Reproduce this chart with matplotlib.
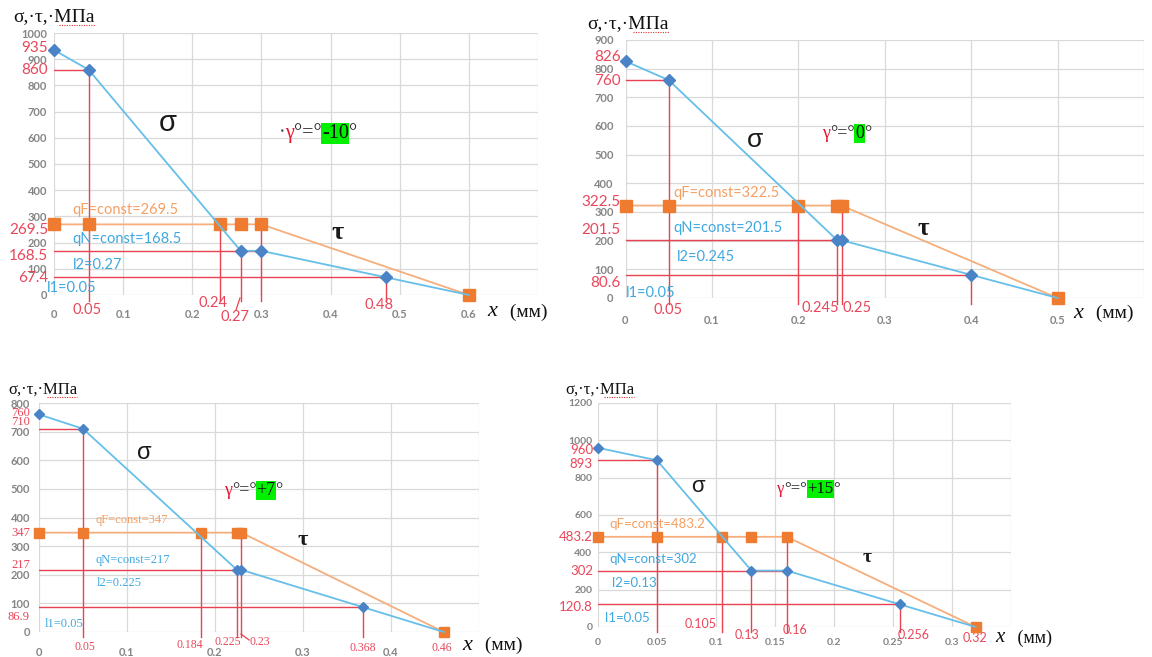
import matplotlib.pyplot as plt
from matplotlib.lines import Line2D
import numpy as np

plt.rcParams['font.family'] = ['Lato', 'DejaVu Sans']

W, H = 1152, 657

# gamma = -10 deg
g1_x_sigma = [0, 0.05, 0.27, 0.3, 0.48, 0.6]
g1_sigma = [935, 860, 168.5, 168.5, 67.4, 0]
g1_x_tau = [0, 0.05, 0.24, 0.27, 0.3, 0.6]
g1_qF, g1_qN = 269.5, 168.5
g1_l1, g1_l2 = 0.05, 0.27
g1_hlines = [(860, 0.05), (168.5, 0.3), (67.4, 0.48)]
g1_vlines = [(0.05, 860), (0.24, 269.5), (0.27, 168.5), (0.3, 269.5), (0.48, 67.4)]
g1_ylabels = [935, 860, 269.5, 168.5, 67.4]
g1_xlabels = [0.05, 0.24, 0.27, 0.48]
g1_gamma = '-10'

# gamma = 0 deg
g2_x_sigma = [0, 0.05, 0.245, 0.25, 0.4, 0.5]
g2_sigma = [826, 760, 201.5, 201.5, 80.6, 0]
g2_x_tau = [0, 0.05, 0.2, 0.245, 0.25, 0.5]
g2_qF, g2_qN = 322.5, 201.5
g2_l1, g2_l2 = 0.05, 0.245
g2_hlines = [(760, 0.05), (201.5, 0.25), (80.6, 0.4)]
g2_vlines = [(0.05, 760), (0.2, 322.5), (0.245, 201.5), (0.25, 322.5), (0.4, 80.6)]
g2_ylabels = [826, 760, 322.5, 201.5, 80.6]
g2_xlabels = [0.05, 0.245, 0.25]
g2_gamma = '0'

# gamma = +7 deg
g3_x_sigma = [0, 0.05, 0.225, 0.23, 0.368, 0.46]
g3_sigma = [760, 710, 217, 217, 86.9, 0]
g3_x_tau = [0, 0.05, 0.184, 0.225, 0.23, 0.46]
g3_qF, g3_qN = 347, 217
g3_l1, g3_l2 = 0.05, 0.225
g3_hlines = [(710, 0.05), (217, 0.23), (86.9, 0.368)]
g3_vlines = [(0.05, 710), (0.184, 347), (0.225, 217), (0.23, 347), (0.368, 86.9)]
g3_ylabels = [760, 710, 347, 217, 86.9]
g3_xlabels = [0.05, 0.184, 0.225, 0.23, 0.368, 0.46]
g3_gamma = '+7'

# gamma = +15 deg
g4_x_sigma = [0, 0.05, 0.13, 0.16, 0.256, 0.32]
g4_sigma = [960, 893, 302, 302, 120.8, 0]
g4_x_tau = [0, 0.05, 0.105, 0.13, 0.16, 0.32]
g4_qF, g4_qN = 483.2, 302
g4_l1, g4_l2 = 0.05, 0.13
g4_hlines = [(893, 0.05), (302, 0.16), (120.8, 0.256)]
g4_vlines = [(0.05, 893), (0.105, 483.2), (0.13, 302), (0.16, 483.2), (0.256, 120.8)]
g4_ylabels = [960, 893, 483.2, 302, 120.8]
g4_xlabels = [0.105, 0.13, 0.16, 0.256, 0.32]
g4_gamma = '+15'

SIG_LINE = '#66bfe9'
SIG_MARK = '#4a84c6'
TAU_LINE = '#f5ae7c'
TAU_MARK = '#ee7b30'
RED = '#e8414f'
RED_TXT = '#e8475b'
QF_TXT = '#f4a064'
QN_TXT = '#3ea8e0'
GRAY = '#858585'
GRID = '#d9d9d9'
SERIF = ['Liberation Serif', 'DejaVu Serif']

panels = [
    dict(data=(g1_x_sigma, g1_sigma, g1_x_tau, g1_qF, g1_qN, g1_l1, g1_l2,
               g1_hlines, g1_vlines, g1_ylabels, g1_xlabels, g1_gamma),
         px=(54, 538, 33, 295), xmax=0.7, xstep=0.1, ymax=1000, ystep=100,
         tick_fs=8, xpad=10, ypad=5, red_fs=11, red_font=None, red_ypad=6,
         ylab_dy=[-2, 0, 6, 5, 1],
         xlab_off=[(-2, 15), (-7, 8), (-6, 22), (-7, 10)],
         leaders=[((240, 298), (236, 310))],
         q_fs=10.5, q_font=None,
         q_pos=[(0.026, 324), (0.026, 214), (0.028, 115), (-0.01, 27)],
         mk=(6, 8), sig=(0.165, 656, 21), tau=(0.41, 237, 19),
         gam=(0.325, 580, 14.5, True), title=(13, 17, 14), xl=(487, 312, 15)),
    dict(data=(g2_x_sigma, g2_sigma, g2_x_tau, g2_qF, g2_qN, g2_l1, g2_l2,
               g2_hlines, g2_vlines, g2_ylabels, g2_xlabels, g2_gamma),
         px=(625.5, 1144, 40, 298), xmax=0.6, xstep=0.1, ymax=900, ystep=100,
         tick_fs=8, xpad=12, ypad=8.5, red_fs=11, red_font=None, red_ypad=5,
         ylab_dy=[-4, 1, -4, -10, 8],
         xlab_off=[(-1, 12), (-17, 10), (16, 10)],
         leaders=[],
         q_fs=10.5, q_font=None,
         q_pos=[(0.055, 366), (0.055, 244), (0.06, 143), (0.0, 17)],
         mk=(6, 8), sig=(0.15, 551, 19), tau=(0.345, 244, 18),
         gam=(0.228, 544, 13, False), title=(587, 24, 14), xl=(1073, 313, 15)),
    dict(data=(g3_x_sigma, g3_sigma, g3_x_tau, g3_qF, g3_qN, g3_l1, g3_l2,
               g3_hlines, g3_vlines, g3_ylabels, g3_xlabels, g3_gamma),
         px=(39, 479, 403, 632), xmax=0.5, xstep=0.1, ymax=800, ystep=100,
         tick_fs=8, xpad=11, ypad=6.5, red_fs=9, red_font=SERIF, red_ypad=9,
         ylab_dy=[-1, -7, 0, -5, 10],
         xlab_off=[(2, 15), (-11, 13), (-9, 10), (18, 10), (0, 16), (-2, 16)],
         leaders=[((241, 634), (249, 640))],
         q_fs=9, q_font=SERIF,
         q_pos=[(0.064, 390), (0.064, 252), (0.066, 172), (0.007, 28)],
         mk=(5, 7), sig=(0.12, 627, 17), tau=(0.30, 320, 16),
         gam=(0.21, 465, 13, False), title=(8, 390, 12), xl=(462, 645, 15)),
    dict(data=(g4_x_sigma, g4_sigma, g4_x_tau, g4_qF, g4_qN, g4_l1, g4_l2,
               g4_hlines, g4_vlines, g4_ylabels, g4_xlabels, g4_gamma),
         px=(598, 1011, 403, 627), xmax=0.35, xstep=0.05, ymax=1200, ystep=200,
         tick_fs=7.5, xpad=8, ypad=4, red_fs=9.5, red_font=None, red_ypad=5,
         ylab_dy=[2, 4, 0, 0, 3],
         xlab_off=[(-21, -3), (-4, 8), (8, 3), (14, 8), (-1, 11)],
         leaders=[],
         q_fs=9.5, q_font=None,
         q_pos=[(0.01, 552), (0.01, 364), (0.012, 236), (0.006, 48)],
         mk=(5, 7), sig=(0.085, 750, 16), tau=(0.228, 370, 14),
         gam=(0.152, 696, 12, False), title=(565, 390, 12), xl=(995, 638, 14)),
]

fig = plt.figure(figsize=(W / 100, H / 100), dpi=100)
titles = []

for p in panels:
    (xs, sig, xt, qF, qN, l1, l2, hl, vl, ylabs, xlabs, gam) = p['data']
    left, right, top, bottom = p['px']
    ax = fig.add_axes([left / W, 1 - bottom / H, (right - left) / W, (bottom - top) / H])
    ax.set_xlim(0, p['xmax'])
    ax.set_ylim(0, p['ymax'])
    for s in ax.spines.values():
        s.set_visible(False)

    xticks = np.round(np.arange(0, p['xmax'] + p['xstep'] / 2, p['xstep']), 3)
    ax.set_xticks(xticks)
    ax.set_xticklabels([f'{v:g}' for v in xticks[:-1]] + [''])
    ax.set_yticks(np.arange(0, p['ymax'] + 1, p['ystep']))
    ax.tick_params(length=0, labelsize=p['tick_fs'], labelcolor=GRAY)
    ax.tick_params(axis='x', pad=p['xpad'])
    ax.tick_params(axis='y', pad=p['ypad'])
    for lab in ax.get_xticklabels() + ax.get_yticklabels():
        lab.set_fontweight('bold')
    ax.grid(True, color=GRID, lw=0.9)
    ax.set_axisbelow(True)

    # helper lines down to the axes
    ylow = -0.022 * p['ymax']
    for y, xe in hl:
        ax.plot([0, xe], [y, y], color=RED, lw=1.0, zorder=2)
    for x, yt in vl:
        ax.plot([x, x], [yt, ylow], color=RED, lw=1.0, zorder=2, clip_on=False)

    # tau and sigma curves
    tau = [qF] * (len(xt) - 1) + [0]
    ax.plot(xt, tau, color=TAU_LINE, lw=1.3, zorder=3, clip_on=False)
    ax.plot(xt, tau, ls='none', marker='s', ms=p['mk'][1], color=TAU_MARK, zorder=3.5, clip_on=False)
    ax.plot(xs, sig, color=SIG_LINE, lw=1.3, zorder=4, clip_on=False)
    ax.plot(xs[:-1], sig[:-1], ls='none', marker='D', ms=p['mk'][0], color=SIG_MARK, zorder=4.5, clip_on=False)

    rf = {} if p['red_font'] is None else dict(family=p['red_font'])
    for v, dy in zip(ylabs, p['ylab_dy']):
        ax.annotate(f'{v:g}', xy=(0, v), xycoords=('axes fraction', 'data'),
                    xytext=(-p['red_ypad'], -dy), textcoords='offset pixels',
                    ha='right', va='center', color=RED_TXT, fontsize=p['red_fs'],
                    annotation_clip=False, zorder=6, **rf)
    for v, (dx, dy) in zip(xlabs, p['xlab_off']):
        ax.annotate(f'{v:g}', xy=(v, 0), xytext=(dx, -dy), textcoords='offset pixels',
                    ha='center', va='center', color=RED_TXT, fontsize=p['red_fs'] - 0.5,
                    annotation_clip=False, **rf)
    for (x0, y0), (x1, y1) in p['leaders']:
        fig.add_artist(Line2D([x0 / W, x1 / W], [1 - y0 / H, 1 - y1 / H], color=RED, lw=0.9))

    qf = {} if p['q_font'] is None else dict(family=p['q_font'])
    qtexts = [(f'qF=const={qF:g}', QF_TXT), (f'qN=const={qN:g}', QN_TXT),
              (f'l2={l2:g}', QN_TXT), (f'l1={l1:g}', QN_TXT)]
    for (s, c), (qx, qy) in zip(qtexts, p['q_pos']):
        ax.text(qx, qy, s, color=c, fontsize=p['q_fs'], ha='left', va='center',
                clip_on=False, zorder=5, **qf)

    sx, sy, sfs = p['sig']
    ax.text(sx, sy, 'σ', fontsize=sfs, ha='center', va='center', color='#1a1a1a',
            family=['Liberation Sans', 'DejaVu Sans'])
    tx, ty, tfs = p['tau']
    ax.text(tx, ty, 'τ', fontsize=tfs, ha='center', va='center', color='#1a1a1a',
            family=SERIF, fontweight='bold')

    # rake angle label, built piece by piece
    gx, gy, gfs, dot = p['gam']
    pieces = ([('·', '#555555', None)] if dot else []) + [
        ('γ', '#e8102a', None), ('°=°', '#222222', None),
        (gam, '#111111', '#00f000'), ('°', '#222222', None)]
    prev = None
    for s, c, bg in pieces:
        kw = dict(color=c, fontsize=gfs, family=SERIF, ha='left', va='bottom')
        if bg:
            kw['bbox'] = dict(facecolor=bg, edgecolor='none', pad=0.5)
        if prev is None:
            prev = ax.text(gx, gy, s, **kw)
        else:
            prev = ax.annotate(s, xy=(1, 0), xycoords=prev, xytext=(0, 0),
                               textcoords='offset points', **kw)

    tx0, ty0, tfs0 = p['title']
    titles.append(fig.text(tx0 / W, 1 - ty0 / H, 'σ,·τ,·МПа', fontsize=tfs0, family=SERIF,
                           ha='left', va='center', color='#111111'))
    lx, ly, lfs = p['xl']
    fig.text(lx / W, 1 - ly / H, 'x', fontsize=lfs + 1, family=SERIF, style='italic',
             ha='left', va='center', color='#111111')
    fig.text(lx / W + 0.016, 1 - ly / H, ' (мм)', fontsize=lfs - 1, family=SERIF,
             ha='left', va='center', color='#111111')

# dotted spell-check underline under the unit
fig.canvas.draw()
for t in titles:
    bb = t.get_window_extent()
    x0 = bb.x0 + 0.56 * bb.width
    y0 = bb.y0 + 1
    fig.add_artist(Line2D([x0 / W, bb.x1 / W], [y0 / H, y0 / H], color='#e03030',
                          lw=0.8, ls=(0, (1, 1.2))))

fig.savefig('out.png', dpi=100, facecolor='white')
